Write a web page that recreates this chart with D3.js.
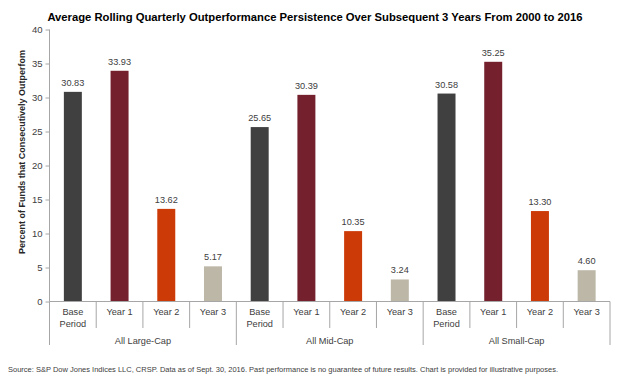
<!DOCTYPE html>
<html><head><meta charset="utf-8">
<script src="https://cdn.jsdelivr.net/npm/d3@7"></script>
<style>
body{margin:0;background:#fff;}
svg text{font-family:"Liberation Sans",Arial,sans-serif;}
</style>
</head><body>
<svg id="chart" width="628" height="379"></svg>
<script>
// ---- data ----
const groups = ["All Large-Cap", "All Mid-Cap", "All Small-Cap"];
const periods = ["Base Period", "Year 1", "Year 2", "Year 3"];
const largeCap = [30.83, 33.93, 13.62, 5.17];
const midCap = [25.65, 30.39, 10.35, 3.24];
const smallCap = [30.58, 35.25, 13.30, 4.60];
const yTicks = [0, 5, 10, 15, 20, 25, 30, 35, 40];
const periodColors = ["#404040", "#74202d", "#cc3a07", "#bcb7a7"];
const titleText = "Average Rolling Quarterly Outperformance Persistence Over Subsequent 3 Years From 2000 to 2016";
const yLabelText = "Percent of Funds that Consecutively Outperfom";
const sourceText = "Source: S&P Dow Jones Indices LLC, CRSP. Data as of Sept. 30, 2016. Past performance is no guarantee of future results. Chart is provided for illustrative purposes.";

(function () {
const seriesByGroup = [largeCap, midCap, smallCap];
const rows = [];
groups.forEach((g, gi) => periods.forEach((p, pi) => {
  rows.push({group: g, gi, period: p, pi, key: g + "|" + p, value: seriesByGroup[gi][pi]});
}));

const svg = d3.select("#chart");
const pLeft = 49.5, pRight = 610, pTop = 29.5, pBottom = 301.5;
const axisColor = "#a6a6a6", textColor = "#404040";

const x = d3.scaleBand().domain(rows.map(d => d.key)).range([pLeft, pRight])
  .paddingInner(0.615).paddingOuter(0.3075);
const y = d3.scaleLinear().domain([0, 40]).range([pBottom, pTop]);
const color = d3.scaleOrdinal().domain(periods).range(periodColors);
const step = x.step();

function fit(sel, target) {
  const base = parseFloat(sel.attr("font-size"));
  const len = sel.node().getComputedTextLength();
  if (len > 0) sel.attr("font-size", (base * target / len).toFixed(2));
}

// title
const title = svg.append("text").attr("x", 315).attr("y", 21)
  .attr("text-anchor", "middle").attr("font-weight", "bold").attr("font-size", 10)
  .attr("fill", "#000").text(titleText);
fit(title, 535);

// y axis
const yAxis = svg.append("g").attr("transform", `translate(${pLeft},0)`)
  .call(d3.axisLeft(y).tickValues(yTicks).tickSize(4).tickPadding(3).tickFormat(d3.format("d")));
yAxis.select(".domain").attr("stroke", axisColor).attr("d", `M0,${pTop}V${pBottom}`);
yAxis.selectAll(".tick line").attr("stroke", axisColor);
yAxis.selectAll(".tick text").attr("font-size", 9.5).attr("fill", textColor)
  .attr("font-family", "Liberation Sans, Arial, sans-serif");

// y label
const yl = svg.append("text").attr("transform", "translate(24.5,152) rotate(-90)")
  .attr("text-anchor", "middle").attr("font-weight", "bold").attr("font-size", 9)
  .attr("fill", "#262626").text(yLabelText);
fit(yl, 204);

// bars
svg.append("g").selectAll("rect").data(rows).join("rect")
  .attr("x", d => x(d.key)).attr("width", x.bandwidth())
  .attr("y", d => y(d.value)).attr("height", d => y(0) - y(d.value))
  .attr("fill", d => color(d.period));

// value labels
svg.append("g").selectAll("text").data(rows).join("text")
  .attr("x", d => x(d.key) + x.bandwidth() / 2).attr("y", d => y(d.value) - 6)
  .attr("text-anchor", "middle").attr("font-size", 9.2).attr("fill", textColor)
  .text(d => d.value.toFixed(2));

// category axis
const cat = svg.append("g");
cat.append("line").attr("x1", pLeft).attr("x2", pRight).attr("y1", pBottom).attr("y2", pBottom)
  .attr("stroke", axisColor);
rows.forEach(d => {
  const bx = x(d.key) - step * x.paddingInner() / 2;
  const isGroupEdge = d.pi === 0;
  cat.append("line").attr("x1", bx).attr("x2", bx).attr("y1", pBottom)
    .attr("y2", isGroupEdge ? 345 : 328).attr("stroke", axisColor);
});
cat.append("line").attr("x1", pRight).attr("x2", pRight).attr("y1", pBottom).attr("y2", 345)
  .attr("stroke", axisColor);

rows.forEach(d => {
  const cx = x(d.key) + x.bandwidth() / 2;
  const words = d.period.split(" ");
  const t = cat.append("text").attr("text-anchor", "middle").attr("font-size", 9.2).attr("fill", textColor);
  if (d.period === "Base Period") {
    t.append("tspan").attr("x", cx).attr("y", 315.3).text(words[0]);
    t.append("tspan").attr("x", cx).attr("y", 326.8).text(words[1]);
  } else {
    t.attr("x", cx).attr("y", 315.3).text(d.period);
  }
});

groups.forEach((g, gi) => {
  const gRows = rows.filter(r => r.gi === gi);
  const x0 = x(gRows[0].key) - step * x.paddingInner() / 2;
  const x1 = x0 + step * gRows.length;
  cat.append("text").attr("x", (x0 + x1) / 2).attr("y", 344.3).attr("text-anchor", "middle")
    .attr("font-size", 9.2).attr("fill", textColor).text(g);
});

// source
const src = svg.append("text").attr("x", 8).attr("y", 372).attr("font-size", 8)
  .attr("fill", textColor).text(sourceText);
fit(src, 550);
})();
</script>
</body></html>
